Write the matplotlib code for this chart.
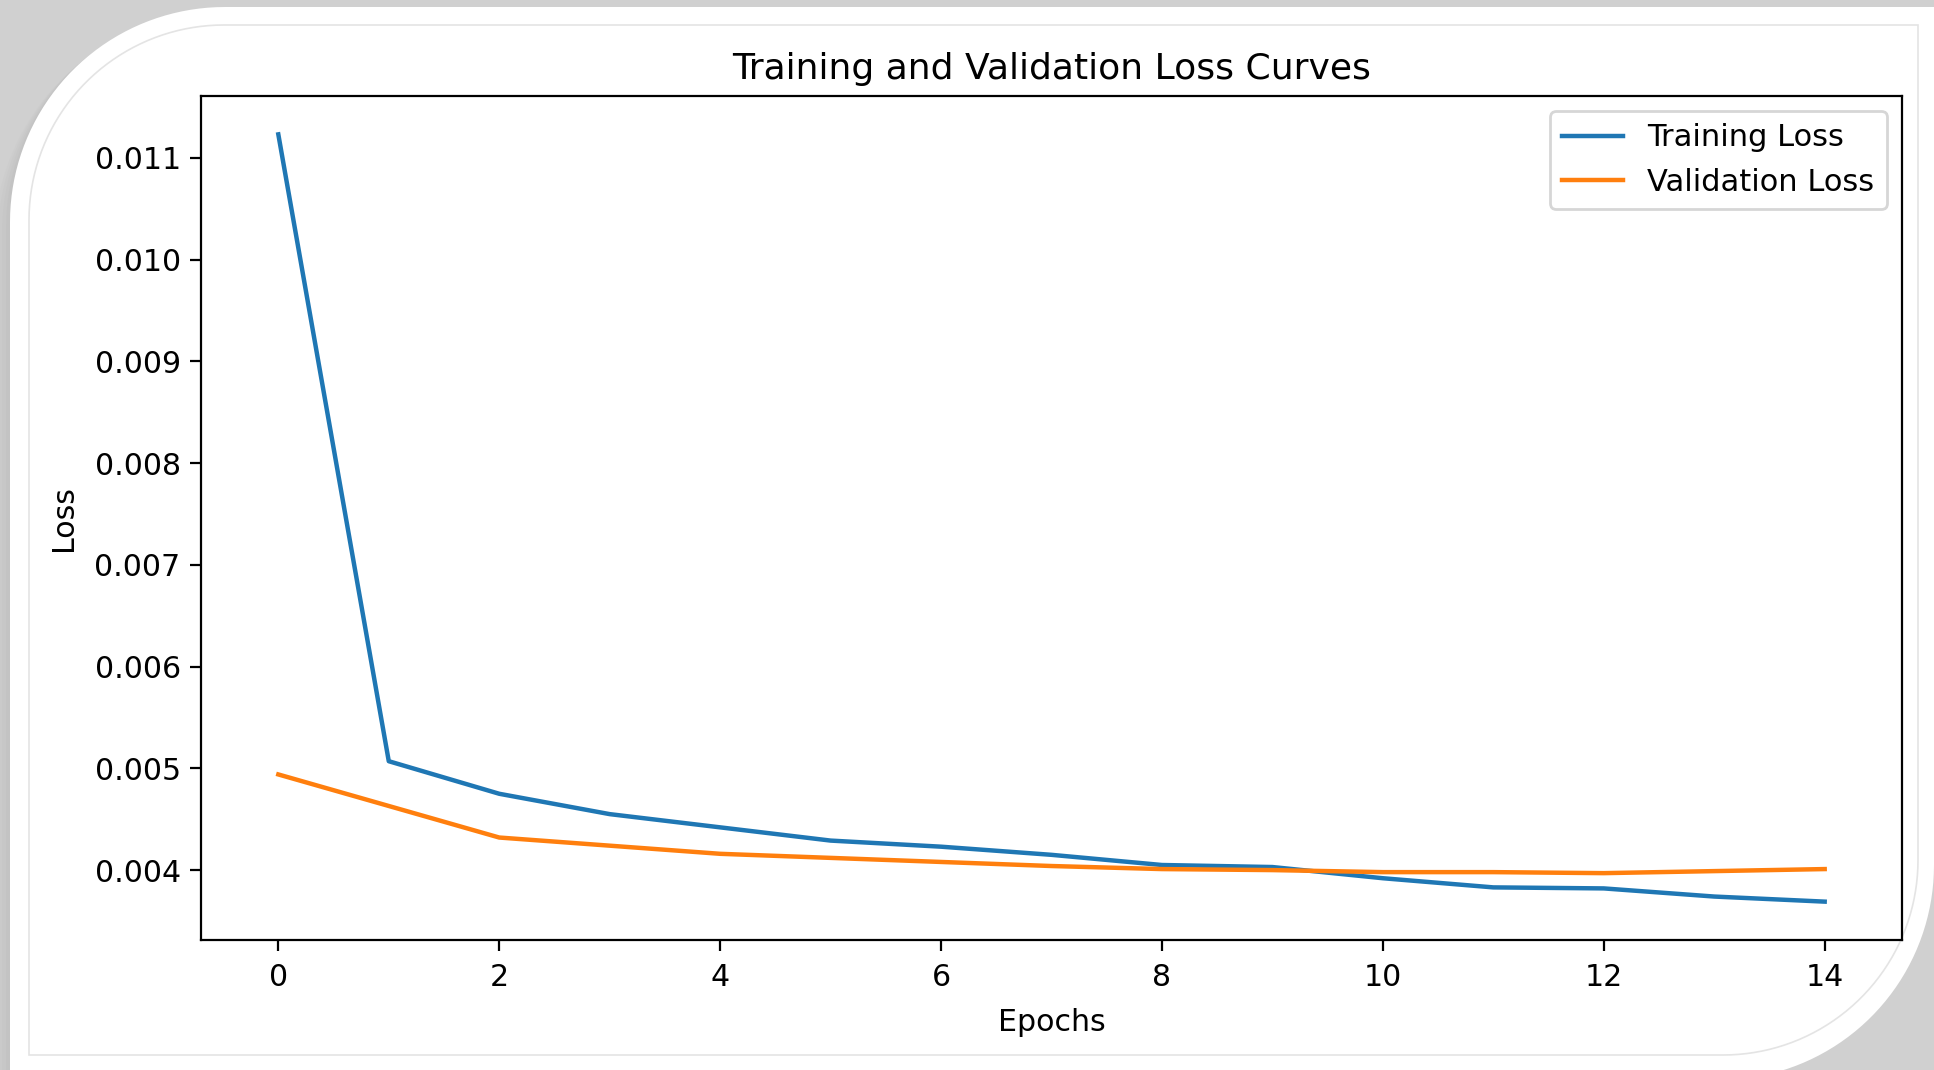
import numpy as np
import matplotlib.pyplot as plt
from matplotlib.patches import Polygon

# values
epochs = list(range(15))
train_loss = [0.01123, 0.00507, 0.00475, 0.00455, 0.00442, 0.00429, 0.00423, 0.00415,
              0.00405, 0.00403, 0.00392, 0.00383, 0.00382, 0.00374, 0.00369]
val_loss = [0.00494, 0.00463, 0.00432, 0.00424, 0.00416, 0.00412, 0.00408, 0.00404,
            0.00401, 0.00400, 0.00398, 0.00398, 0.00397, 0.00399, 0.00401]

W, H = 1934, 1070
fig = plt.figure(figsize=(W / 200, H / 200), dpi=200, facecolor='#d0d0d0')

plt.rcParams['font.size'] = 10.8
plt.rcParams['xtick.major.size'] = 3.8
plt.rcParams['ytick.major.size'] = 3.8
plt.rcParams['xtick.major.pad'] = 4.6


def card_shape(x0, y0, x1, y1, r):
    # rectangle with rounded top-left and bottom-right corners (pixel coords, y down)
    t = np.linspace(0, np.pi / 2, 40)
    tl = np.column_stack([x0 + r - r * np.cos(t), y0 + r - r * np.sin(t)])
    br = np.column_stack([x1 - r + r * np.cos(t), y1 - r + r * np.sin(t)])
    pts = np.vstack([tl, [[x1, y0]], br, [[x0, y1]]])
    return pts


# background frame (slide card)
bg = fig.add_axes([0, 0, 1, 1], zorder=-5)
bg.set_xlim(0, W)
bg.set_ylim(H, 0)
bg.axis('off')
for i, a in enumerate([0.06, 0.07, 0.08, 0.1]):
    off = 16 - i * 4
    bg.add_patch(Polygon(card_shape(10 - off, 7 + off * 0.3, 1934, 1080, 215 + off),
                         closed=True, facecolor='#a8a8a8', edgecolor='none', alpha=a))
bg.add_patch(Polygon(card_shape(10, 7, 1934, 1080, 215), closed=True,
                     facecolor='white', edgecolor='none'))
bg.add_patch(Polygon(card_shape(29, 25, 1918, 1055, 195), closed=True,
                     facecolor='none', edgecolor='#e4e4e4', lw=0.6))

ax = fig.add_axes([201 / W, 1 - 940 / H, (1902 - 201) / W, (940 - 96) / H])
ax.plot(epochs, train_loss, label='Training Loss', lw=1.6)
ax.plot(epochs, val_loss, label='Validation Loss', lw=1.6)
ax.set_title('Training and Validation Loss Curves', fontsize=13)
ax.set_xlabel('Epochs', labelpad=5.5)
ax.set_ylabel('Loss', labelpad=6)
ax.legend(fontsize=11)

fig.savefig('out.png', dpi=200, facecolor=fig.get_facecolor())
